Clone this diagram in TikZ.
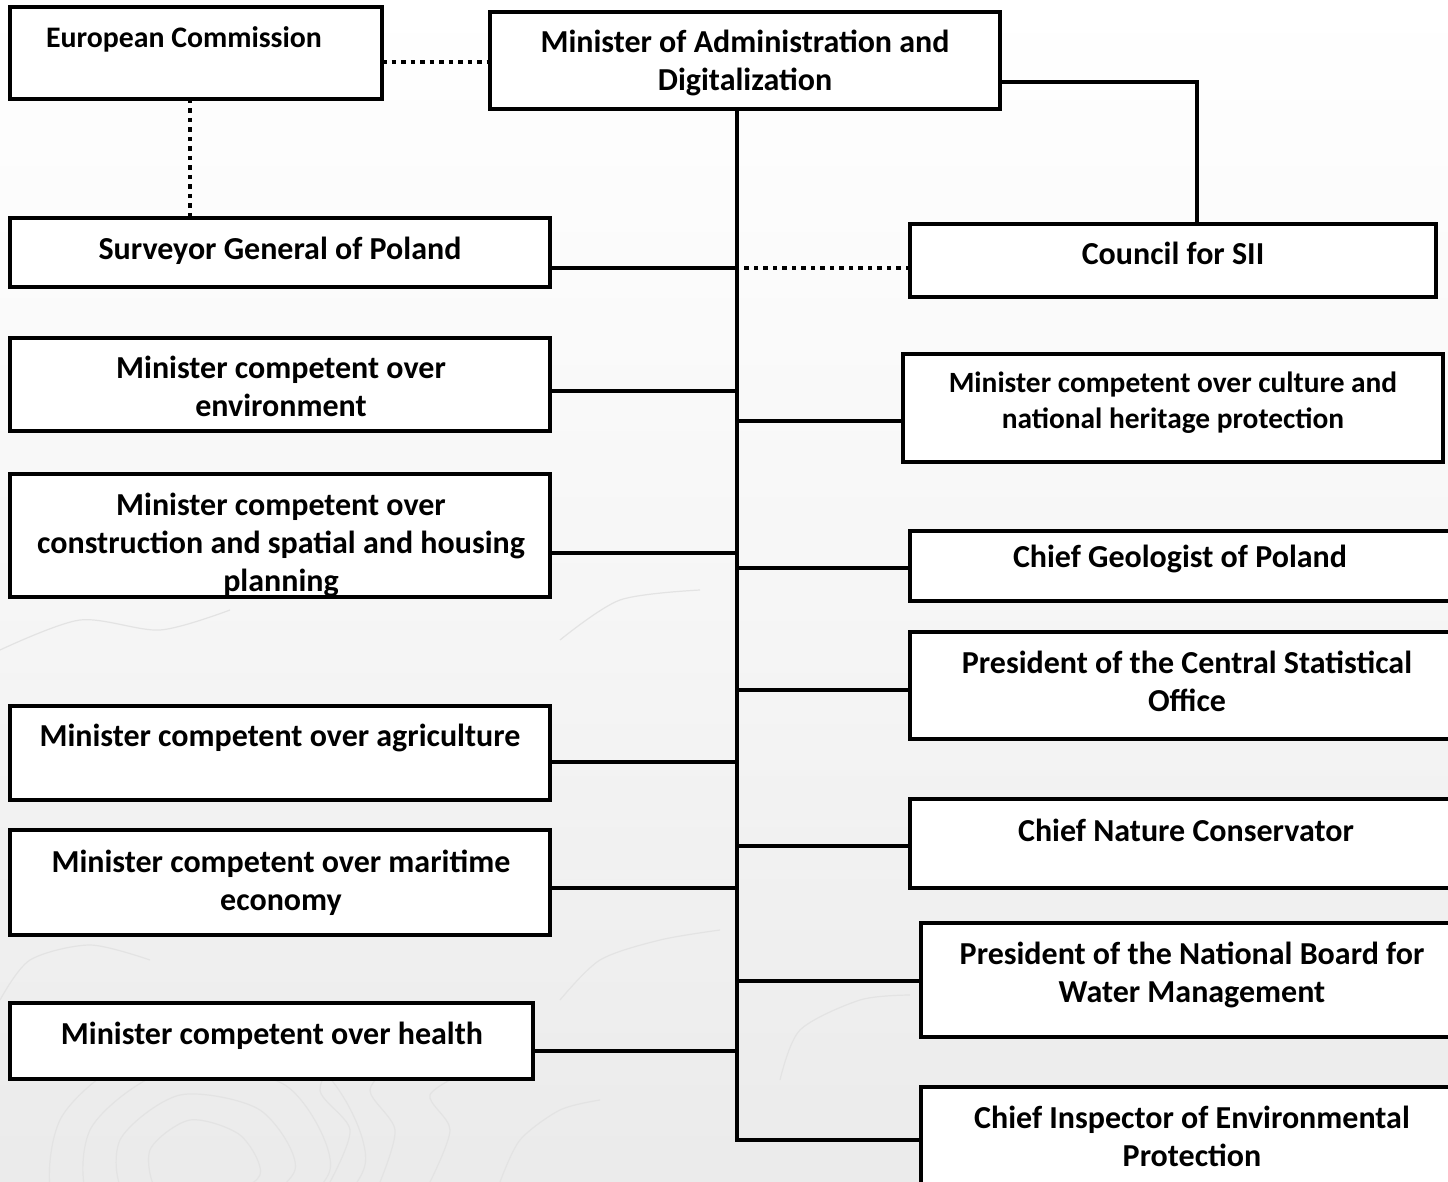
\documentclass[tikz,border=0pt]{standalone}
\usepackage{fontspec}
\setmainfont{Carlito}
\begin{document}
\begin{tikzpicture}[x=1pt,y=-1pt,
  box/.style={draw=black,line width=4pt,fill=white,inner sep=0pt,outer sep=0pt},
  txt/.style={align=center,inner sep=0pt,yshift=-3pt,font=\fontsize{32}{38}\selectfont\bfseries},
  txtec/.style={align=center,inner sep=0pt,yshift=-1.5pt,font=\fontsize{29.8}{38}\selectfont\bfseries},
  txtsm/.style={align=center,inner sep=0pt,yshift=-2pt,font=\fontsize{29.4}{36}\selectfont\bfseries},
  conn/.style={line width=4pt,line join=miter},
  dots/.style={line width=4pt,dash pattern=on 4.5pt off 5pt}]
\useasboundingbox (0,0) rectangle (1448,1182);
\clip (0,0) rectangle (1448,1182);
% background
\shade[top color=white, bottom color=gray!16, middle color=gray!7] (0,0) rectangle (1448,1182);
\begin{scope}[draw=gray!22,line width=1.2pt]
\draw plot[smooth cycle] coordinates {(150,1150) (190,1120) (240,1135) (260,1175) (215,1200) (160,1195)};
\draw plot[smooth cycle] coordinates {(120,1140) (180,1095) (260,1110) (295,1170) (230,1215) (130,1200)};
\draw plot[smooth cycle] coordinates {(90,1130) (170,1070) (285,1085) (330,1170) (250,1230) (100,1215)};
\draw plot[smooth cycle] coordinates {(60,1120) (160,1045) (310,1060) (365,1165) (270,1245) (70,1230)};
\draw plot[smooth] coordinates {(330,1182) (350,1130) (320,1090) (345,1050) (390,1040)};
\draw plot[smooth] coordinates {(380,1182) (395,1130) (370,1090) (400,1060) (440,1050)};
\draw plot[smooth] coordinates {(430,1182) (450,1130) (430,1095) (470,1070)};
\draw plot[smooth] coordinates {(500,1182) (520,1140) (560,1110) (600,1100)};
\draw plot[smooth] coordinates {(0,1000) (30,960) (90,945) (150,960)};
\draw plot[smooth] coordinates {(560,1000) (600,960) (660,940) (720,930)};
\draw plot[smooth] coordinates {(780,1080) (800,1030) (860,1000) (910,995)};
\draw plot[smooth] coordinates {(0,650) (80,620) (160,630) (230,610)};
\draw plot[smooth] coordinates {(560,640) (620,600) (700,590)};
\end{scope}
% boxes
\node[box,minimum width=372pt,minimum height=92pt] (ec) at (196,53) {};
\node[txtec] (ect) at (184,38) {\strut European Commission};
\node[box,minimum width=510pt,minimum height=97pt] (mad) at (745,60.5) {};
\node[txt] (madt) at (745,61) {\strut Minister of Administration and\\\strut Digitalization};
\node[box,minimum width=540pt,minimum height=69pt] (sg) at (280,252.5) {};
\node[txt] (sgt) at (280,249) {\strut Surveyor General of Poland};
\node[box,minimum width=526pt,minimum height=73pt] (sii) at (1173,260.5) {};
\node[txt] (siit) at (1173,254) {\strut Council for SII};
\node[box,minimum width=540pt,minimum height=93pt] (env) at (280,384.5) {};
\node[txt] (envt) at (281,387) {\strut Minister competent over\\\strut environment};
\node[box,minimum width=540pt,minimum height=108pt] (cul) at (1173,408) {};
\node[txtsm] (cult) at (1173,401) {\strut Minister competent over culture and\\\strut national heritage protection};
\node[box,minimum width=540pt,minimum height=123pt] (con) at (280,535.5) {};
\node[txt] (cont) at (281,543) {\strut Minister competent over\\\strut construction and spatial and housing\\\strut planning};
\node[box,minimum width=540pt,minimum height=70pt] (geo) at (1180,566) {};
\node[txt] (geot) at (1180,557) {\strut Chief Geologist of Poland};
\node[box,minimum width=554pt,minimum height=107pt] (cso) at (1187,685.5) {};
\node[txt] (csot) at (1187,682) {\strut President of the Central Statistical\\\strut Office};
\node[box,minimum width=540pt,minimum height=94pt] (agr) at (280,753) {};
\node[txt] (agrt) at (280,736) {\strut Minister competent over agriculture};
\node[box,minimum width=554pt,minimum height=89pt] (nat) at (1187,843.5) {};
\node[txt] (natt) at (1186,831) {\strut Chief Nature Conservator};
\node[box,minimum width=540pt,minimum height=105pt] (mar) at (280,882.5) {};
\node[txt] (mart) at (281,881) {\strut Minister competent over maritime\\\strut economy};
\node[box,minimum width=543pt,minimum height=114pt] (nbwm) at (1192.5,980) {};
\node[txt] (nbwmt) at (1192,973) {\strut President of the National Board for\\\strut Water Management};
\node[box,minimum width=523pt,minimum height=76pt] (hea) at (271.5,1041) {};
\node[txt] (heat) at (272,1034) {\strut Minister competent over health};
\node[box,minimum width=543pt,minimum height=113pt] (ins) at (1192.5,1143.5) {};
\node[txt] (inst) at (1192,1137) {\strut Chief Inspector of Environmental\\\strut Protection};
% trunk
\coordinate (trunk) at (737,1140);
\draw[conn] (mad.south -| trunk) -- (trunk) -- (trunk -| ins.west);
% left branches
\draw[conn] ([yshift=-15.5pt]sg.east) coordinate (a1) -- (a1 -| trunk);
\draw[conn] ([yshift=-6.5pt]env.east) coordinate (a2) -- (a2 -| trunk);
\draw[conn] ([yshift=-17.5pt]con.east) coordinate (a3) -- (a3 -| trunk);
\draw[conn] ([yshift=-9pt]agr.east) coordinate (a4) -- (a4 -| trunk);
\draw[conn] ([yshift=-5.5pt]mar.east) coordinate (a5) -- (a5 -| trunk);
\draw[conn] ([yshift=-10pt]hea.east) coordinate (a6) -- (a6 -| trunk);
% right branches
\draw[conn] ([yshift=-13pt]cul.west) coordinate (b1) -- (b1 -| trunk);
\draw[conn] ([yshift=-2pt]geo.west) coordinate (b2) -- (b2 -| trunk);
\draw[conn] ([yshift=-4.5pt]cso.west) coordinate (b3) -- (b3 -| trunk);
\draw[conn] ([yshift=-2.5pt]nat.west) coordinate (b4) -- (b4 -| trunk);
\draw[conn] ([yshift=-1pt]nbwm.west) coordinate (b5) -- (b5 -| trunk);
% Minister to Council
\draw[conn] ([yshift=-21.5pt]mad.east) -| ([xshift=24pt]sii.north);
% dotted links
\draw[dots] ([yshift=-9pt]ec.east) coordinate (d1) -- (d1 -| mad.west);
\draw[dots] ([xshift=-6pt]ec.south) coordinate (d2) -- (d2 |- sg.north);
\draw[dots] ([yshift=-7.5pt]sii.west) coordinate (d3) -- (d3 -| trunk);
\end{tikzpicture}
\end{document}
